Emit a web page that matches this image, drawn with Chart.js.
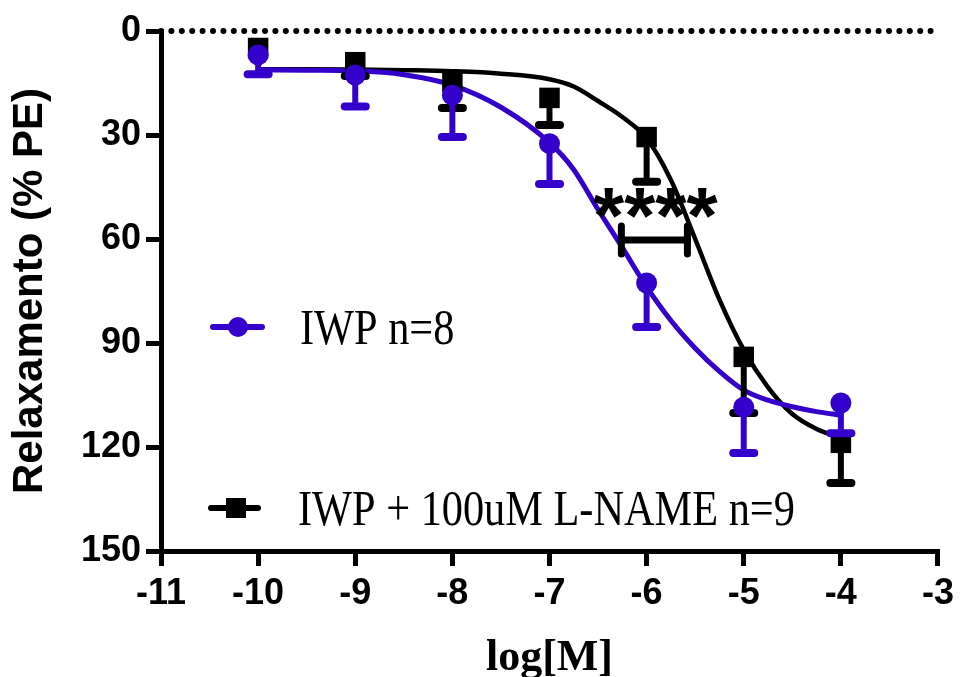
<!DOCTYPE html>
<html><head><meta charset="utf-8">
<script src="https://cdn.jsdelivr.net/npm/chart.js@4"></script>
<style>html,body{margin:0;padding:0;background:#fff;}</style>
</head><body>
<canvas id="c" width="960" height="677"></canvas>
<script>
// ---- data ----
const logConc = [-10, -9, -8, -7, -6, -5, -4];
const iwpMean = [6.9, 12.7, 18.5, 32.5, 72.7, 108.5, 107.3];
const iwpSem = [5.6, 9.1, 12.1, 11.6, 12.7, 13.2, 8.7];
const lnameMean = [4.9, 9.0, 14.7, 19.3, 30.6, 94.0, 118.8];
const lnameSem = [2.0, 4.0, 7.5, 7.8, 12.9, 16.2, 11.6];

const curveX = [-10, -9.5, -9, -8.5, -8, -7.5, -7, -6.75, -6.5, -6.25, -6, -5.75, -5.5, -5.25, -5, -4.75, -4.5, -4.25, -4];
const iwpCurve = [11.2, 11.3, 11.5, 12.6, 15.6, 22.0, 32.2, 40.0, 51.5, 62.5, 73.8, 83.5, 91.5, 98.2, 103.6, 106.5, 108.4, 109.8, 110.8];
const lnameCurve = [11.0, 11.0, 11.1, 11.3, 11.6, 12.3, 13.9, 16.0, 20.2, 24.8, 31.0, 43.0, 60.0, 77.5, 92.0, 102.8, 110.5, 114.8, 117.3];

const xTicks = [-11, -10, -9, -8, -7, -6, -5, -4, -3];
const yTicks = [0, 30, 60, 90, 120, 150];
const refLineY = 0;

const sigRange = [-6.26, -5.58];
const sigY = 60.3;
const sigLabel = '****';
const sigLabelPos = [-5.91, 49.6];

const seriesLabels = ['IWP n=8', 'IWP + 100uM L-NAME n=9'];
const xTitle = 'log[M]';
const yTitle = 'Relaxamento (% PE)';

// ---- styling ----
const BLUE = '#3300CC', BLACK = '#000000';
const pts = (xs, ys) => xs.map((x, i) => ({x, y: ys[i]}));

const errorBars = {
  id: 'errorBars',
  beforeDatasetDraw(chart, args) {
    const ds = chart.data.datasets[args.index];
    if (!ds.errors) return;
    const {ctx, scales: {x, y}} = chart;
    ctx.save();
    ctx.strokeStyle = ds.backgroundColor;
    ds.data.forEach((p, i) => {
      const px = x.getPixelForValue(p.x);
      const py = y.getPixelForValue(p.y);
      const pe = y.getPixelForValue(p.y + ds.errors[i]);
      if (Math.abs(pe - py) < ds.markerHalf) return; // hidden inside the symbol
      ctx.lineWidth = 6; ctx.lineCap = 'butt';
      ctx.beginPath(); ctx.moveTo(px, py); ctx.lineTo(px, pe); ctx.stroke();
      ctx.lineWidth = 8; ctx.lineCap = 'round';
      ctx.beginPath(); ctx.moveTo(px - 10.5, pe); ctx.lineTo(px + 10.5, pe); ctx.stroke();
    });
    ctx.restore();
  }
};

const annotations = {
  id: 'annotations',
  afterDatasetsDraw(chart) {
    const {ctx, scales: {x, y}} = chart;
    ctx.save();
    const x1 = x.getPixelForValue(sigRange[0]), x2 = x.getPixelForValue(sigRange[1]);
    const yb = y.getPixelForValue(sigY);
    ctx.strokeStyle = BLACK; ctx.lineCap = 'round';
    ctx.lineWidth = 7;
    ctx.beginPath(); ctx.moveTo(x1, yb); ctx.lineTo(x2, yb); ctx.stroke();
    ctx.beginPath(); ctx.moveTo(x1, yb - 14); ctx.lineTo(x1, yb + 14); ctx.stroke();
    ctx.beginPath(); ctx.moveTo(x2, yb - 14); ctx.lineTo(x2, yb + 14); ctx.stroke();
    ctx.font = 'bold 80px "Liberation Sans", Arial, sans-serif';
    ctx.fillStyle = BLACK; ctx.textAlign = 'center'; ctx.textBaseline = 'alphabetic';
    const m = ctx.measureText(sigLabel);
    const cx = x.getPixelForValue(sigLabelPos[0]), cy = y.getPixelForValue(sigLabelPos[1]);
    const base = cy + (m.actualBoundingBoxAscent - m.actualBoundingBoxDescent) / 2;
    ctx.fillText(sigLabel, cx, base);
    ctx.restore();
  },
  afterDraw(chart) {
    const {ctx} = chart;
    ctx.save();
    const entries = [
      {label: seriesLabels[0], color: BLUE, style: 'circle', lx1: 213, lx2: 262, mx: 238, y: 327, tx: 300},
      {label: seriesLabels[1], color: BLACK, style: 'rect', lx1: 211, lx2: 258, mx: 236, y: 508, tx: 298}
    ];
    entries.forEach(e => {
      ctx.strokeStyle = e.color; ctx.fillStyle = e.color;
      ctx.lineWidth = 6; ctx.lineCap = 'round';
      ctx.beginPath(); ctx.moveTo(e.lx1, e.y); ctx.lineTo(e.lx2, e.y); ctx.stroke();
      if (e.style === 'circle') {
        ctx.beginPath(); ctx.arc(e.mx, e.y, 10, 0, Math.PI * 2); ctx.fill();
      } else {
        ctx.fillRect(e.mx - 10, e.y - 10, 20, 20);
      }
      ctx.save();
      ctx.fillStyle = BLACK;
      ctx.translate(e.tx, e.y + 17);
      ctx.scale(0.83, 1);
      ctx.font = '51px "Liberation Serif", "Times New Roman", serif';
      ctx.textAlign = 'left'; ctx.textBaseline = 'alphabetic';
      ctx.fillText(e.label, 0, 0);
      ctx.restore();
    });
    ctx.restore();
  }
};

const tickFont = {family: '"Liberation Sans", Arial, sans-serif', weight: 'bold', size: 36};

new Chart(document.getElementById('c'), {
  type: 'scatter',
  data: {
    datasets: [
      {label: seriesLabels[0], data: pts(logConc, iwpMean), errors: iwpSem, markerHalf: 10.5, backgroundColor: BLUE, borderColor: BLUE,
       pointStyle: 'circle', pointRadius: 10.5, borderWidth: 0, showLine: false, order: 0, clip: false},
      {label: seriesLabels[1], data: pts(logConc, lnameMean), errors: lnameSem, markerHalf: 10.5, backgroundColor: BLACK, borderColor: BLACK,
       pointStyle: 'rect', pointRadius: 14.5, borderWidth: 0, showLine: false, order: 1, clip: false},
      {label: 'IWP fit', data: pts(curveX, iwpCurve), showLine: true, borderColor: BLUE, borderWidth: 5,
       pointRadius: 0, cubicInterpolationMode: 'monotone', order: 2, clip: false},
      {label: 'L-NAME fit', data: pts(curveX, lnameCurve), showLine: true, borderColor: BLACK, borderWidth: 4.5,
       pointRadius: 0, cubicInterpolationMode: 'monotone', order: 3, clip: false},
      {label: 'zero', data: [{x: xTicks[0], y: refLineY}, {x: xTicks[xTicks.length - 1], y: refLineY}], showLine: true,
       borderColor: BLACK, borderWidth: 6, borderDash: [0, 10.4], borderCapStyle: 'round', pointRadius: 0, order: 4, clip: false}
    ]
  },
  options: {
    responsive: false,
    animation: false,
    events: [],
    layout: {padding: {top: 31, right: 18, left: 0, bottom: 0}},
    plugins: {legend: {display: false}, tooltip: {enabled: false}},
    scales: {
      x: {
        type: 'linear', min: xTicks[0], max: xTicks[xTicks.length - 1],
        afterFit(scale) { scale.height = 126; },
        afterBuildTicks(scale) { scale.ticks = xTicks.map(v => ({value: v})); },
        ticks: {font: tickFont, color: BLACK, padding: 6, autoSkip: false, maxRotation: 0},
        grid: {drawOnChartArea: false, drawTicks: true, tickLength: 15, lineWidth: 5, color: BLACK, tickColor: BLACK},
        border: {display: true, width: 5, color: BLACK},
        title: {display: true, text: xTitle, color: BLACK,
          font: {family: '"Liberation Serif", "Times New Roman", serif', weight: 'bold', size: 44, lineHeight: 1},
          padding: {top: 0, bottom: -4}}
      },
      y: {
        type: 'linear', reverse: true, min: yTicks[0], max: yTicks[yTicks.length - 1],
        afterFit(scale) { scale.width = 161; },
        afterBuildTicks(scale) { scale.ticks = yTicks.map(v => ({value: v})); },
        ticks: {font: tickFont, color: BLACK, padding: 5},
        grid: {drawOnChartArea: false, drawTicks: true, tickLength: 15, lineWidth: 5, color: BLACK, tickColor: BLACK},
        border: {display: true, width: 5, color: BLACK},
        title: {display: true, text: yTitle, color: BLACK,
          font: {family: '"Liberation Sans", Arial, sans-serif', weight: 'bold', size: 42, lineHeight: 1},
          padding: {top: 9, bottom: 0}}
      }
    }
  },
  plugins: [errorBars, annotations]
});
</script>
</body></html>
